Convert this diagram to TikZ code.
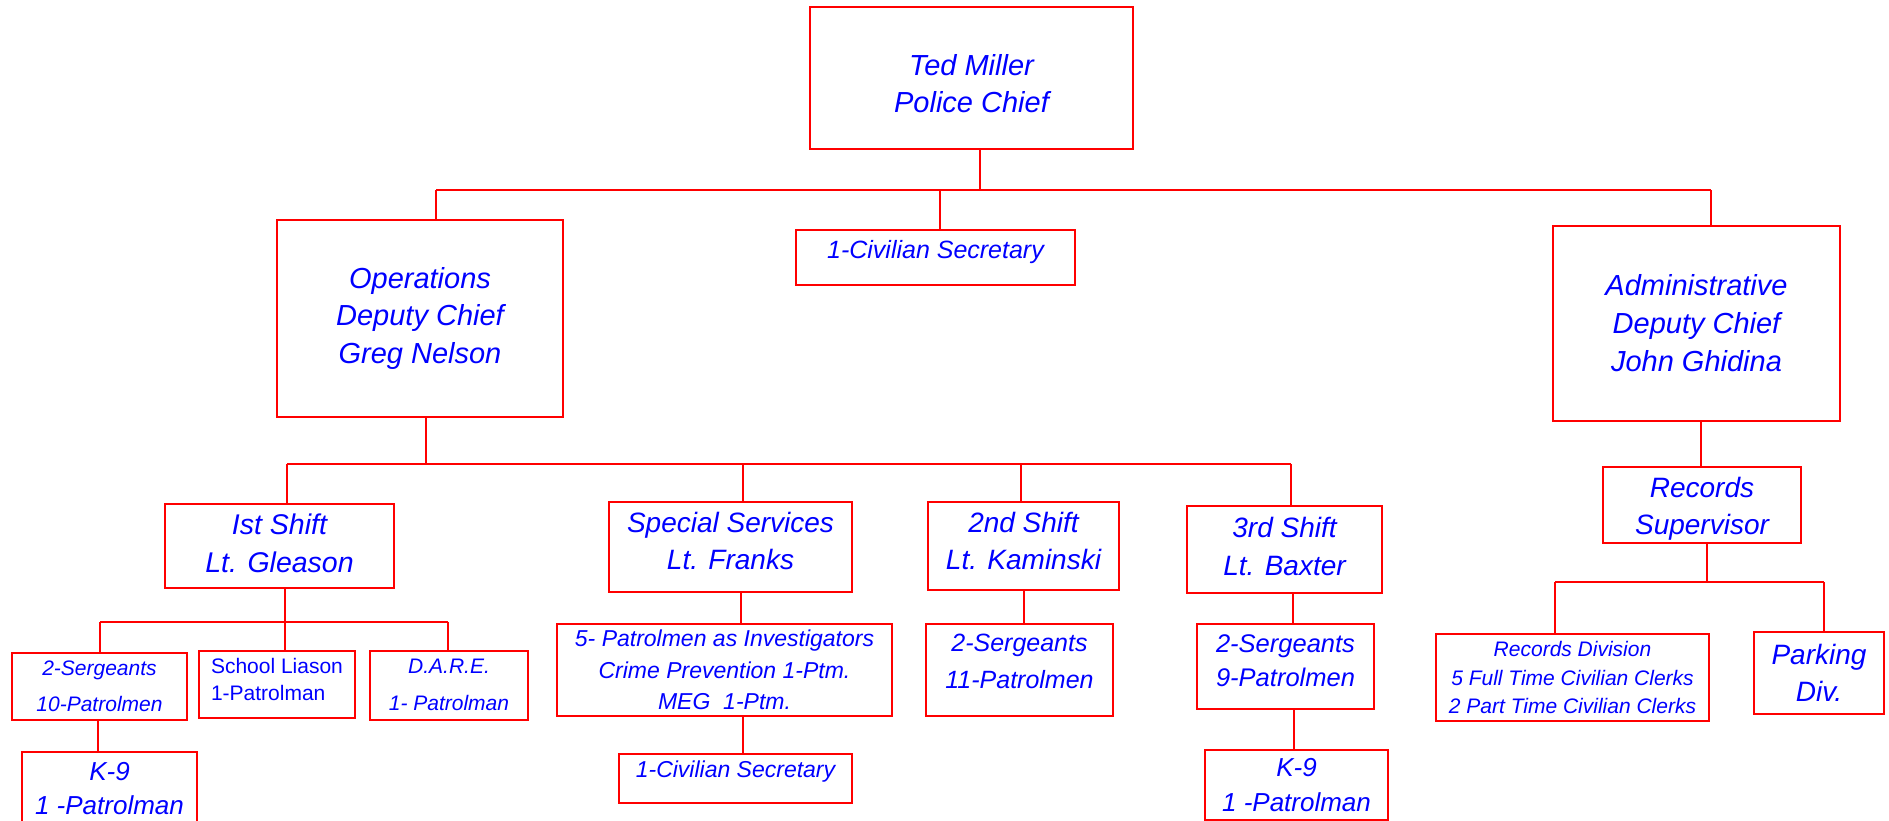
\documentclass[tikz,border=0pt]{standalone}
\usepackage{fontspec}
\setmainfont{Liberation Sans}
\newcommand{\fs}[2]{\fontsize{#1}{#2}\selectfont\itshape}
\tikzset{
  box/.style={draw={rgb, 255:red, 255; green, 0; blue, 0}, line width=2pt, text={rgb, 255:red, 0; green, 0; blue, 255}, align=center, inner sep=0pt},
  conn/.style={draw={rgb, 255:red, 255; green, 0; blue, 0}, line width=2pt}
}
\begin{document}
\begin{tikzpicture}[x=1pt,y=1pt,yscale=-1,xscale=1]
\useasboundingbox (0,0) rectangle (1889,821);

% Boxes, top part
\node [box, minimum width=323, minimum height=142, font=\fs{29}{37}, text height=70pt, text depth=0pt] (chief) at (971.5,78) {Ted Miller\\Police Chief};
\node [box, minimum width=279, minimum height=55, font=\fs{25}{30}, text depth=17pt] (sec) at (935.5,257.5) {1-Civilian Secretary};
\node [box, minimum width=286, minimum height=197, font=\fs{29}{37.5}] (ops) at (420,318.5) {Operations\\Deputy Chief\\Greg Nelson};
\node [box, minimum width=287, minimum height=195, font=\fs{29}{38}] (admin) at (1696.5,323.5) {Administrative\\Deputy Chief\\John Ghidina};

% Boxes, shifts
\node [box, minimum width=229, minimum height=84, font=\fs{28.5}{38}, text height=52pt, text depth=0pt] (first) at (279.5,546) {Ist Shift\\Lt. Gleason};
\node [box, minimum width=243, minimum height=90, font=\fs{28}{37}, text height=44pt, text depth=0pt] (spec) at (730.5,547) {Special Services\\Lt. Franks};
\node [box, minimum width=191, minimum height=88, font=\fs{28}{37}, text height=46pt, text depth=0pt] (second) at (1023.5,546) {2nd Shift\\Lt. Kaminski};
\node [box, minimum width=195, minimum height=87, font=\fs{28}{38}, text height=51pt, text depth=0pt] (third) at (1284.5,549.5) {3rd Shift\\Lt. Baxter};
\node [box, minimum width=198, minimum height=76, font=\fs{28}{37}, text height=64pt, text depth=6pt] (recsup) at (1702,505) {Records\\Supervisor};

% Boxes, bottom part
\node [box, minimum width=175, minimum height=67, font=\fs{21}{36}] (sgtA) at (99.5,686.5) {2-Sergeants\\10-Patrolmen};
\node [box, minimum width=156, minimum height=67, font=\fs{21}{27}\upshape, align=left, text height=31pt, text depth=0pt] (school) at (277,684.5) {School Liason\\1-Patrolman};
\node [box, minimum width=158, minimum height=69, font=\fs{21}{37}, text height=49pt, text depth=0pt] (dare) at (449,685.5) {D.A.R.E.\\1- Patrolman};
\node [box, minimum width=175, minimum height=73, font=\fs{26}{34}] (k9A) at (109.5,788.5) {K-9\\1 -Patrolman};
\node [box, minimum width=335, minimum height=92, font=\fs{23}{31.5}] (inv) at (724.5,670) {5- Patrolmen as Investigators\\Crime Prevention 1-Ptm.\\MEG\ \ 1-Ptm.};
\node [box, minimum width=233, minimum height=49, font=\fs{23}{28}, text depth=18pt] (secB) at (735.5,778.5) {1-Civilian Secretary};
\node [box, minimum width=187, minimum height=92, font=\fs{25}{37}, text height=36pt, text depth=0pt] (sgtB) at (1019.5,670) {2-Sergeants\\11-Patrolmen};
\node [box, minimum width=177, minimum height=85, font=\fs{25.5}{34}, text height=39pt, text depth=0pt] (sgtC) at (1285.5,666.5) {2-Sergeants\\9-Patrolmen};
\node [box, minimum width=183, minimum height=70, font=\fs{26}{35}] (k9B) at (1296.5,785) {K-9\\1 -Patrolman};
\node [box, minimum width=273, minimum height=87, font=\fs{21}{28.5}] (recdiv) at (1572.5,677.5) {Records Division\\5 Full Time Civilian Clerks\\2 Part Time Civilian Clerks};
\node [box, minimum width=130, minimum height=82, font=\fs{28}{37}] (parking) at (1819,673) {Parking\\Div.};

% Bus lines
\coordinate (top bus L) at (436,190);
\coordinate (top bus R) at (1711,190);
\coordinate (ops bus L) at (287,464);
\coordinate (ops bus R) at (1291,464);
\coordinate (first bus L) at (100,622);
\coordinate (first bus R) at (448,622);
\coordinate (rec bus L) at (1555,582);
\coordinate (rec bus R) at (1824,582);

%Straight Lines, chief level
\draw [conn] (top bus L) -- (top bus R);
\draw [conn] ([xshift=8.5pt]chief.south) -- ([xshift=8.5pt]chief.south |- top bus L);
\draw [conn] ([xshift=4.5pt]sec.north) -- ([xshift=4.5pt]sec.north |- top bus L);
\draw [conn] (ops.north -| top bus L) -- (top bus L);
\draw [conn] (admin.north -| top bus R) -- (top bus R);

%Straight Lines, operations
\draw [conn] (ops bus L) -- (ops bus R);
\draw [conn] ([xshift=6pt]ops.south) -- ([xshift=6pt]ops.south |- ops bus L);
\draw [conn] (first.north -| ops bus L) -- (ops bus L);
\draw [conn] ([xshift=12.5pt]spec.north) -- ([xshift=12.5pt]spec.north |- ops bus L);
\draw [conn] ([xshift=-2.5pt]second.north) -- ([xshift=-2.5pt]second.north |- ops bus L);
\draw [conn] (third.north -| ops bus R) -- (ops bus R);

%Straight Lines, 1st shift
\draw [conn] (first bus L) -- (first bus R);
\draw [conn] ([xshift=5.5pt]first.south) -- ([xshift=5.5pt]first.south |- school.north);
\draw [conn] (sgtA.north -| first bus L) -- (first bus L);
\draw [conn] (dare.north -| first bus R) -- (first bus R);
\draw [conn] ([xshift=-1.5pt]sgtA.south) -- ([xshift=-1.5pt]sgtA.south |- k9A.north);

%Straight Lines, other shifts
\draw [conn] ([xshift=10.5pt]spec.south) -- ([xshift=10.5pt]spec.south |- inv.north);
\draw [conn] ([xshift=18.5pt]inv.south) -- ([xshift=18.5pt]inv.south |- secB.north);
\draw [conn] (second.south) -- (second.south |- sgtB.north);
\draw [conn] ([xshift=8.5pt]third.south) -- ([xshift=8.5pt]third.south |- sgtC.north);
\draw [conn] ([xshift=8.5pt]sgtC.south) -- ([xshift=8.5pt]sgtC.south |- k9B.north);

%Straight Lines, administration
\draw [conn] ([xshift=4.5pt]admin.south) -- ([xshift=4.5pt]admin.south |- recsup.north);
\draw [conn] (rec bus L) -- (rec bus R);
\draw [conn] ([xshift=5pt]recsup.south) -- ([xshift=5pt]recsup.south |- rec bus L);
\draw [conn] (recdiv.north -| rec bus L) -- (rec bus L);
\draw [conn] (parking.north -| rec bus R) -- (rec bus R);

\end{tikzpicture}
\end{document}
